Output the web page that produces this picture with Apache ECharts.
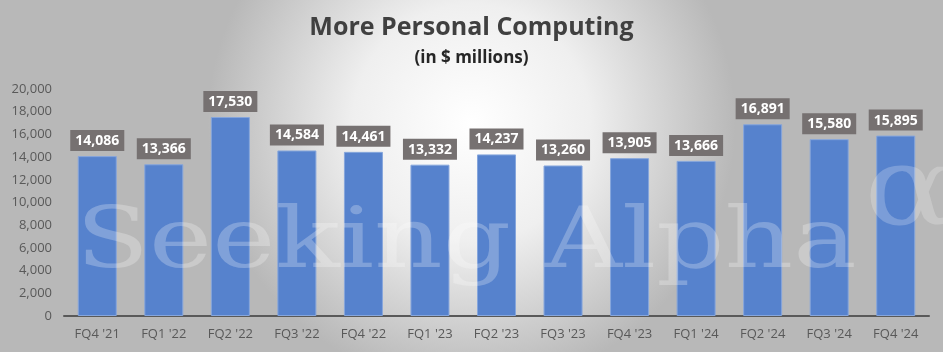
<!DOCTYPE html>
<html>
<head>
<meta charset="utf-8">
<script src="https://cdn.jsdelivr.net/npm/echarts@6/dist/echarts.min.js"></script>
<style>
  html, body { margin: 0; padding: 0; }
  #chart { width: 943px; height: 352px; }
</style>
</head>
<body>
<div id="chart"></div>
<script>
const quarters = ["FQ4 '21", "FQ1 '22", "FQ2 '22", "FQ3 '22", "FQ4 '22", "FQ1 '23", "FQ2 '23",
  "FQ3 '23", "FQ4 '23", "FQ1 '24", "FQ2 '24", "FQ3 '24", "FQ4 '24"]
const revenue = [14086, 13366, 17530, 14584, 14461, 13332, 14237, 13260, 13905, 13666, 16891, 15580, 15895]

const chart = echarts.init(document.getElementById('chart'), null, { renderer: 'canvas' })

const option = {
  animation: false,
  backgroundColor: new echarts.graphic.RadialGradient(0.5, 0.35, 0.75, [
    { offset: 0, color: '#ffffff' },
    { offset: 0.45, color: '#efefef' },
    { offset: 1, color: '#b8b8b8' },
  ]),
  title: {
    text: 'More Personal Computing',
    subtext: '(in $ millions)',
    left: 'center',
    top: 10,
    itemGap: 10,
    textStyle: {
      fontFamily: 'Open Sans',
      fontSize: 25,
      fontWeight: 'bold',
      color: '#404040',
    },
    subtextStyle: {
      fontFamily: 'Open Sans',
      fontSize: 17,
      fontWeight: 'bold',
      color: '#262626',
    },
  },
  graphic: [
    {
      type: 'text',
      x: 76,
      y: 203,
      scaleX: 1.27,
      z: 100,
      style: {
        text: 'Seeking Alpha',
        font: '84px "DejaVu Serif"',
        fill: 'rgba(255, 255, 255, 0.25)',
      },
    },
    {
      type: 'text',
      x: 864,
      y: 140,
      scaleX: 1.2,
      z: 100,
      style: {
        text: 'α',
        font: '110px "DejaVu Serif"',
        fill: 'rgba(255, 255, 255, 0.22)',
      },
    },
  ],
  grid: {
    left: 64,
    right: 14,
    top: 89,
    bottom: 36,
  },
  xAxis: {
    type: 'category',
    data: quarters,
    axisLine: { lineStyle: { color: '#595959', width: 2 } },
    axisTick: { show: false },
    axisLabel: {
      color: '#595959',
      fontFamily: 'Open Sans',
      fontSize: 13,
      margin: 12,
    },
  },
  yAxis: {
    type: 'value',
    min: 0,
    max: 20000,
    interval: 2000,
    splitLine: { show: false },
    axisLine: { show: false },
    axisTick: { show: false },
    axisLabel: {
      color: '#595959',
      fontFamily: 'Open Sans',
      fontSize: 13,
      margin: 12,
      formatter: (v) => v.toLocaleString('en-US'),
    },
  },
  series: [
    {
      type: 'bar',
      data: revenue,
      barWidth: 39,
      itemStyle: {
        color: '#5682cd',
        borderColor: '#86a6dc',
        borderWidth: 1,
      },
      label: {
        show: true,
        position: 'top',
        distance: 5,
        backgroundColor: '#767171',
        padding: [4, 5, 3, 5],
        color: '#ffffff',
        fontFamily: 'Open Sans',
        fontWeight: 'bold',
        fontSize: 14,
        formatter: (p) => p.value.toLocaleString('en-US'),
      },
    },
  ],
}

chart.setOption(option)
</script>
</body>
</html>
